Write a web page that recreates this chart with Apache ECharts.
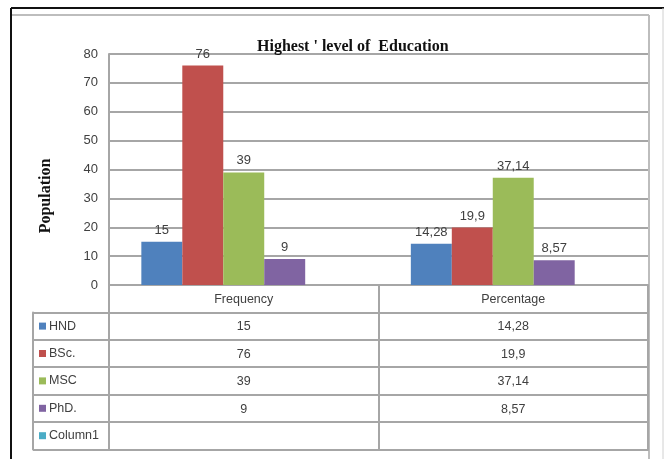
<!DOCTYPE html>
<html>
<head>
<meta charset="utf-8">
<script src="https://cdn.jsdelivr.net/npm/echarts@6/dist/echarts.min.js"></script>
<style>
  html, body { margin: 0; padding: 0; background: #fff; }
  #main { width: 664px; height: 459px; }
</style>
</head>
<body>
<div id="main"></div>
<script>
var categories = ['Frequency', 'Percentage'];
var seriesNames = ['HND', 'BSc.', 'MSC', 'PhD.', 'Column1'];
var hnd = [15, 14.28];
var bsc = [76, 19.9];
var msc = [39, 37.14];
var phd = [9, 8.57];
var column1 = ['-', '-'];
var yTicks = [0, 10, 20, 30, 40, 50, 60, 70, 80];

var colors = ['#4F81BD', '#C0504D', '#9BBB59', '#8064A2', '#4BACC6'];
var allData = [hnd, bsc, msc, phd, column1];
var lineColor = '#a6a6a6';
var textColor = '#404040';
var font = 'Liberation Sans';
var fsize = 12.5;
var rowH = 27.4;

function fmt(v){
    if (v === '-' || v === null || v === undefined) return '';
    return String(v).replace('.', ',');
}

var chart = echarts.init(document.getElementById('main'));

// x axes: main category axis + one axis per table row
var xAxes = [{
    type: 'category',
    gridIndex: 0,
    data: categories,
    axisLine: { lineStyle: { color: lineColor, width: 2 } },
    axisTick: { show: true, length: rowH * 6, lineStyle: { color: lineColor, width: 2 } },
    axisLabel: { margin: 8, fontSize: fsize, color: textColor, fontFamily: font }
}];
for (var i = 0; i < seriesNames.length + 1; i++) {
    var row = allData[i];
    xAxes.push({
        type: 'category',
        gridIndex: 0,
        position: 'bottom',
        offset: rowH * (i + 1),
        data: row ? row.map(fmt) : ['', ''],
        axisLine: { lineStyle: { color: lineColor, width: 2 } },
        axisTick: { show: false },
        axisLabel: { margin: 8, fontSize: fsize, color: textColor, fontFamily: font }
    });
}
xAxes.push({ type: 'value', gridIndex: 1, show: false });

var rich = { t: { fontSize: fsize, color: textColor, fontFamily: font, padding: [0, 0, 0, 3] } };
colors.forEach(function(c, i){
    rich['k' + i] = { width: 7, height: 7, backgroundColor: c };
});

var series = seriesNames.map(function(name, i){
    return {
        name: name,
        type: 'bar',
        xAxisIndex: 0,
        yAxisIndex: 0,
        data: allData[i],
        barGap: '0%',
        barCategoryGap: '24%',
        itemStyle: { color: colors[i] },
        label: {
            show: true,
            position: 'top',
            distance: 5,
            fontSize: 13,
            color: textColor,
            fontFamily: font,
            formatter: function(p){ return fmt(p.value); }
        }
    };
});

option = {
    animation: false,
    backgroundColor: '#fff',
    title: {
        text: "Highest ' level of  Education",
        left: 252,
        top: 34,
        textStyle: { fontFamily: 'Liberation Serif', fontWeight: 'bold', fontSize: 16, color: '#111' }
    },
    grid: [
        { left: 109, right: 16, top: 54, bottom: 174 },
        { left: 33, width: 76, top: 285 + rowH, height: rowH * 5 }
    ],
    xAxis: xAxes,
    yAxis: [{
        type: 'value',
        gridIndex: 0,
        min: yTicks[0],
        max: yTicks[yTicks.length - 1],
        interval: 10,
        axisLine: { show: true, lineStyle: { color: lineColor, width: 2 } },
        axisTick: { show: false },
        splitLine: { lineStyle: { color: lineColor, width: 2 } },
        axisLabel: { margin: 11, fontSize: 13, color: textColor, fontFamily: font }
    }, {
        type: 'category',
        gridIndex: 1,
        inverse: true,
        data: seriesNames,
        axisLine: { show: true, lineStyle: { color: lineColor, width: 2 } },
        axisTick: { show: false },
        splitLine: { show: true, lineStyle: { color: lineColor, width: 2 } },
        axisLabel: {
            inside: true,
            margin: 6,
            align: 'left',
            formatter: function(v, i){ return '{k' + i + '|}{t|' + v + '}'; },
            rich: rich
        }
    }],
    graphic: [
        { type: 'line', shape: { x1: 11, y1: 8, x2: 664, y2: 8 }, style: { stroke: '#111', lineWidth: 2 } },
        { type: 'line', shape: { x1: 11, y1: 8, x2: 11, y2: 459 }, style: { stroke: '#111', lineWidth: 2 } },
        { type: 'line', shape: { x1: 12, y1: 15, x2: 649, y2: 15 }, style: { stroke: '#bdbdbd', lineWidth: 2 } },
        { type: 'line', shape: { x1: 649, y1: 15, x2: 649, y2: 459 }, style: { stroke: '#bdbdbd', lineWidth: 2 } },
        { type: 'line', shape: { x1: 663, y1: 8, x2: 663, y2: 459 }, style: { stroke: '#d0d0d0', lineWidth: 1 } },
        {
            type: 'text', x: 46, y: 196, rotation: Math.PI / 2,
            style: { text: 'Population', fontFamily: 'Liberation Serif', fontWeight: 'bold', fontSize: 16,
                     fill: '#111', align: 'center', verticalAlign: 'middle' }
        }
    ],
    series: series
};

chart.setOption(option);
</script>
</body>
</html>
